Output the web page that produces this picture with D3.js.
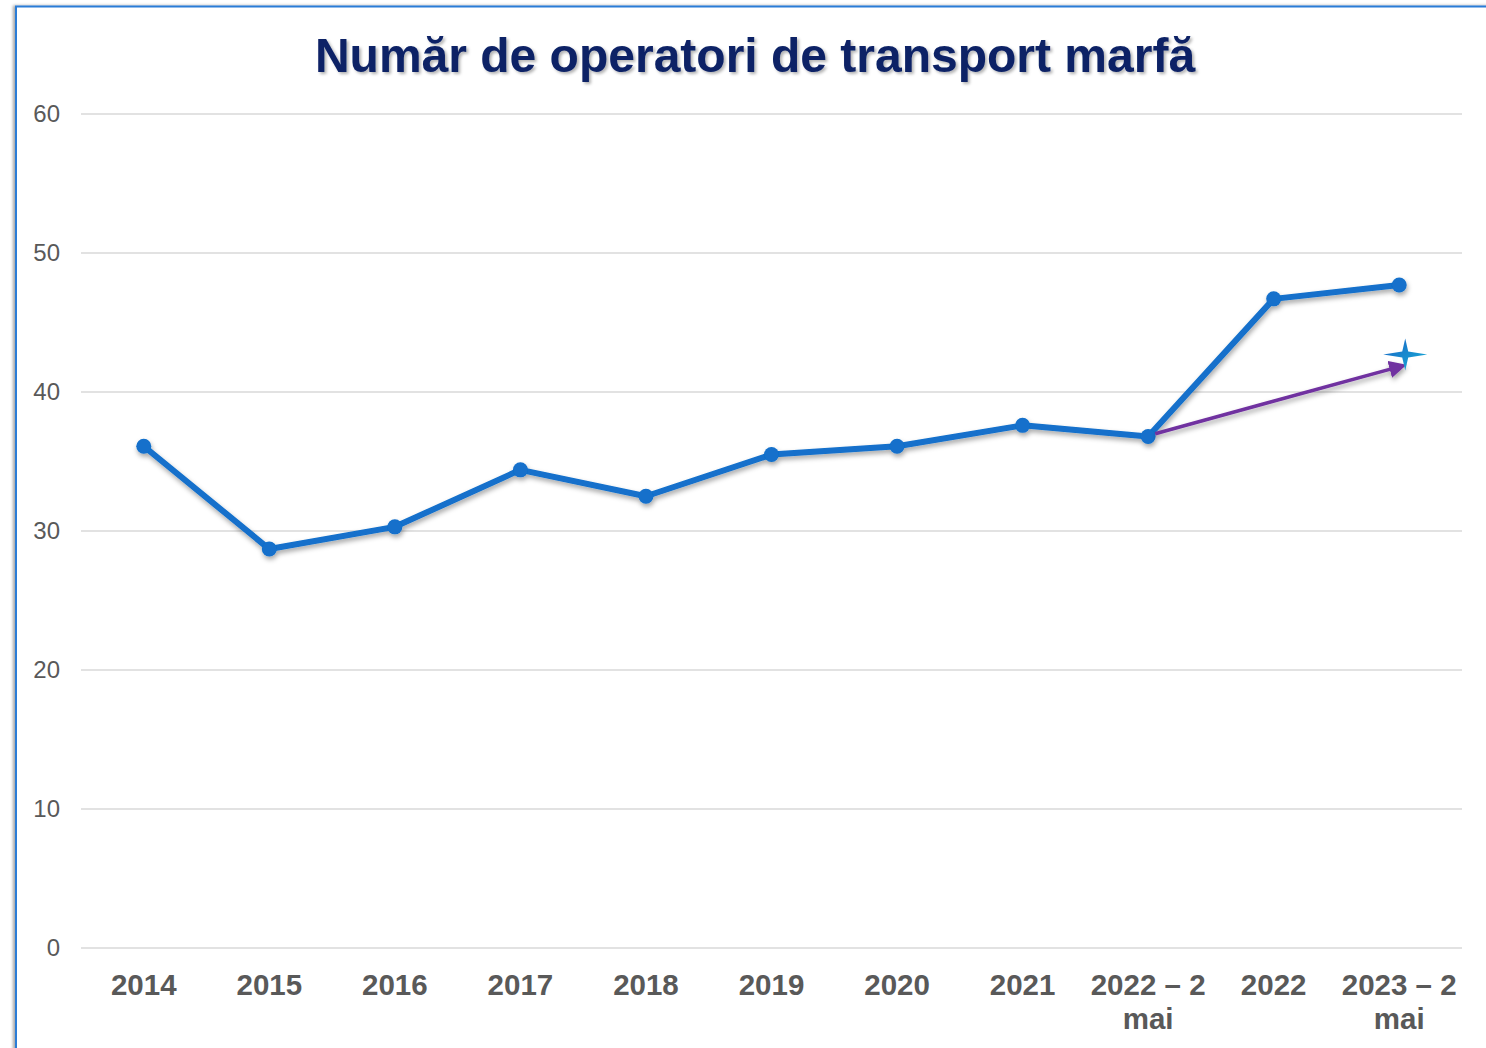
<!DOCTYPE html>
<html>
<head>
<meta charset="utf-8">
<script src="https://cdn.jsdelivr.net/npm/d3@7"></script>
<style>
  body { margin: 0; background: #fff; }
  svg { display: block; font-family: "Liberation Sans", Arial, sans-serif; }
</style>
</head>
<body>
<svg width="1486" height="1048"></svg>
<script>
// Data
const categories = ["2014", "2015", "2016", "2017", "2018", "2019", "2020", "2021", "2022 – 2 mai", "2022", "2023 – 2 mai"];
const values = [36.1, 28.7, 30.3, 34.4, 32.5, 35.5, 36.1, 37.6, 36.8, 46.7, 47.7];
const yTicks = [0, 10, 20, 30, 40, 50, 60];
const arrowFrom = { cat: "2022 – 2 mai", value: 37.0 };
const arrowTo = { cat: "2023 – 2 mai", value: 41.9 };
const starAt = { cat: "2023 – 2 mai", value: 42.7 };
const title = "Număr de operatori de transport marfă";

const svg = d3.select("svg");
const width = 1486, height = 1048;
const margin = { left: 81, right: 24, top: 114, bottom: 100 };

const defs = svg.append("defs");
const shadow = defs.append("filter").attr("id", "shadow")
    .attr("x", "-10%").attr("y", "-10%").attr("width", "120%").attr("height", "130%");
shadow.append("feDropShadow").attr("dx", 1).attr("dy", 3).attr("stdDeviation", 2.5)
    .attr("flood-color", "#000").attr("flood-opacity", 0.35);

const titleShadow = defs.append("filter").attr("id", "tshadow");
titleShadow.append("feDropShadow").attr("dx", 2).attr("dy", 2).attr("stdDeviation", 1.5)
    .attr("flood-color", "#000").attr("flood-opacity", 0.3);

const starGrad = defs.append("linearGradient").attr("id", "starGrad")
    .attr("x1", "0").attr("y1", "0").attr("x2", "1").attr("y2", "1");
starGrad.append("stop").attr("offset", "0").attr("stop-color", "#1a5fc4");
starGrad.append("stop").attr("offset", "1").attr("stop-color", "#16b4d8");

const frameShadow = defs.append("filter").attr("id", "fshadow")
    .attr("x", "-5%").attr("y", "-5%").attr("width", "110%").attr("height", "110%");
frameShadow.append("feDropShadow").attr("dx", -2).attr("dy", 0).attr("stdDeviation", 1.5)
    .attr("flood-color", "#000").attr("flood-opacity", 0.35);

// Frame
svg.append("rect")
    .attr("x", 16).attr("y", 6.5).attr("width", 1500).attr("height", 1100)
    .attr("fill", "#fff").attr("stroke", "#2a7bd6").attr("stroke-width", 2)
    .attr("filter", "url(#fshadow)");

// Scales
const x = d3.scaleBand().domain(categories)
    .range([margin.left, width - margin.right]).padding(0);
const y = d3.scaleLinear().domain([0, 60]).range([948, margin.top]);
const cx = c => x(c) + x.bandwidth() / 2;

// Gridlines
svg.append("g")
    .selectAll("line")
    .data(yTicks)
    .enter().append("line")
    .attr("x1", margin.left).attr("x2", width - margin.right)
    .attr("y1", d => y(d)).attr("y2", d => y(d))
    .attr("stroke", "#d9d9d9").attr("stroke-width", 1.5);

// Y labels
svg.append("g")
    .selectAll("text")
    .data(yTicks)
    .enter().append("text")
    .attr("x", 60).attr("y", d => y(d))
    .attr("dy", "0.35em")
    .attr("text-anchor", "end")
    .attr("font-size", 24)
    .attr("fill", "#595959")
    .text(d => d);

// X labels
const xl = svg.append("g")
    .selectAll("text")
    .data(categories)
    .enter().append("text")
    .attr("x", d => cx(d))
    .attr("y", 995)
    .attr("text-anchor", "middle")
    .attr("font-size", 29.5)
    .attr("font-weight", "bold")
    .attr("fill", "#595959");
xl.each(function(d) {
    const parts = d.split(" mai");
    const t = d3.select(this);
    if (d.endsWith(" mai")) {
        t.append("tspan").attr("x", cx(d)).text(parts[0]);
        t.append("tspan").attr("x", cx(d)).attr("dy", 34).text("mai");
    } else {
        t.text(d);
    }
});

// Title
svg.append("text")
    .attr("x", 755).attr("y", 72)
    .attr("text-anchor", "middle")
    .attr("font-size", 48)
    .attr("font-weight", "bold")
    .attr("fill", "#0d2466")
    .attr("filter", "url(#tshadow)")
    .text(title);

// Line + markers
const series = categories.map((c, i) => ({ cat: c, value: values[i] }));
const g = svg.append("g").attr("filter", "url(#shadow)");
g.append("path")
    .datum(series)
    .attr("fill", "none")
    .attr("stroke", "#126fcb")
    .attr("stroke-width", 6)
    .attr("stroke-linejoin", "round")
    .attr("d", d3.line().x(d => cx(d.cat)).y(d => y(d.value)));
g.selectAll("circle")
    .data(series)
    .enter().append("circle")
    .attr("cx", d => cx(d.cat))
    .attr("cy", d => y(d.value))
    .attr("r", 7.5)
    .attr("fill", "#126fcb");

// Arrow
defs.append("marker").attr("id", "arrowHead")
    .attr("viewBox", "0 0 10 10").attr("refX", 8).attr("refY", 5)
    .attr("markerWidth", 5).attr("markerHeight", 5)
    .attr("markerUnits", "strokeWidth")
    .attr("orient", "auto")
    .append("path").attr("d", "M0,0 L10,5 L0,10 Z").attr("fill", "#7030a0");

const ax1 = cx(arrowFrom.cat) + 7, ay1 = y(arrowFrom.value);
const ax2 = cx(arrowTo.cat) + 4, ay2 = y(arrowTo.value);
svg.append("line")
    .attr("x1", ax1).attr("y1", ay1).attr("x2", ax2).attr("y2", ay2)
    .attr("stroke", "#7030a0").attr("stroke-width", 3.5)
    .attr("marker-end", "url(#arrowHead)")
    .attr("filter", "url(#shadow)");

// Star
const sx = cx(starAt.cat) + 6, sy = y(starAt.value);
const R = 22, r = 3;
const starPath = d3.path();
starPath.moveTo(sx, sy - 16);
starPath.lineTo(sx + r, sy - r);
starPath.lineTo(sx + R, sy);
starPath.lineTo(sx + r, sy + r);
starPath.lineTo(sx, sy + 16);
starPath.lineTo(sx - r, sy + r);
starPath.lineTo(sx - R, sy);
starPath.lineTo(sx - r, sy - r);
starPath.closePath();
svg.append("path").attr("d", starPath.toString()).attr("fill", "url(#starGrad)");
</script>
</body>
</html>
